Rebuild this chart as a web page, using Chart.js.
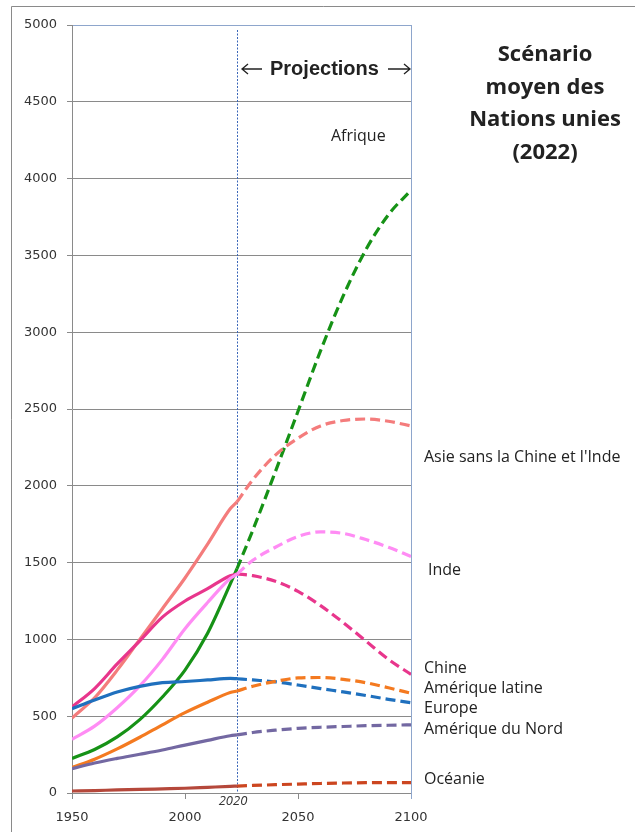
<!DOCTYPE html>
<html>
<head>
<meta charset="utf-8">
<script src="https://cdn.jsdelivr.net/npm/chart.js@4"></script>
<style>
  html, body { margin: 0; padding: 0; background: #fff; }
  canvas { display: block; }
</style>
</head>
<body>
<canvas id="chart" width="635" height="832"></canvas>
<script>
// years: history up to the start of projections, then UN medium scenario
var histYears = [1950, 1960, 1970, 1980, 1990, 2000, 2010, 2020, 2023]
var projYears = [2023, 2030, 2040, 2050, 2060, 2070, 2080, 2090, 2100]
var breakYear = 2023

// population in millions
var afriqueHist = [225, 283, 365, 478, 625, 800, 1040, 1360, 1460]
var afriqueProj = [1460, 1711, 2093, 2485, 2880, 3236, 3536, 3765, 3924]
var asieHist = [488, 620, 800, 1000, 1200, 1400, 1620, 1850, 1895]
var asieProj = [1895, 2040, 2200, 2310, 2390, 2425, 2435, 2420, 2390]
var indeHist = [350, 435, 555, 697, 870, 1070, 1240, 1396, 1425]
var indeProj = [1425, 1515, 1600, 1670, 1700, 1690, 1650, 1600, 1540]
var chineHist = [560, 680, 840, 990, 1145, 1250, 1330, 1415, 1426]
var chineProj = [1426, 1415, 1378, 1313, 1220, 1110, 990, 870, 772]
var europeHist = [549, 605, 657, 694, 718, 726, 736, 746, 744]
var europeProj = [744, 736, 724, 703, 680, 658, 635, 610, 588]
var latHist = [166, 220, 287, 363, 444, 523, 591, 654, 664]
var latProj = [664, 695, 727, 749, 752, 740, 718, 685, 650]
var nordHist = [158, 195, 225, 252, 280, 312, 343, 373, 378]
var nordProj = [378, 394, 409, 421, 428, 433, 438, 441, 444]
var oceanieHist = [13, 16, 20, 23, 27, 31, 37, 43, 45]
var oceanieProj = [45, 49, 54, 58, 62, 65, 67, 68, 68]

var yTicks = [0, 500, 1000, 1500, 2000, 2500, 3000, 3500, 4000, 4500, 5000]
var xTicks = [1950, 2000, 2050, 2100]

var GREEN = "#169216"
var SALMON = "#F47C7C"
var VIOLET = "#FF8CF4"
var PINK = "#E8368C"
var BLUE = "#1F70BE"
var ORANGE = "#F47A20"
var PURPLE = "#7368A2"
var BROWN = "#B5483B"
var BROWN_DASH = "#CC4620"

function pts(xs, ys) {
  return xs.map(function (x, i) { return {x: x, y: ys[i]} })
}

function line(data, color, dashed) {
  return {
    data: data,
    borderColor: color,
    backgroundColor: color,
    borderWidth: 3.2,
    borderDash: dashed ? [10, 5] : [],
    pointRadius: 0,
    fill: false,
    cubicInterpolationMode: 'monotone'
  }
}

var series = [
  [oceanieHist, oceanieProj, BROWN, BROWN_DASH],
  [nordHist, nordProj, PURPLE, PURPLE],
  [latHist, latProj, ORANGE, ORANGE],
  [europeHist, europeProj, BLUE, BLUE],
  [indeHist, indeProj, VIOLET, VIOLET],
  [chineHist, chineProj, PINK, PINK],
  [asieHist, asieProj, SALMON, SALMON],
  [afriqueHist, afriqueProj, GREEN, GREEN]
]

var datasets = []
series.forEach(function (s) {
  datasets.push(line(pts(histYears, s[0]), s[2], false))
  datasets.push(line(pts(projYears, s[1]), s[3], true))
})

var labelFont = "16px 'Open Sans'"
var regionLabels = [
  ["Afrique", 331, 136],
  ["Asie sans la Chine et l'Inde", 424, 457],
  ["Inde", 428, 570],
  ["Chine", 424, 668],
  ["Amérique latine", 424, 688],
  ["Europe", 424, 708],
  ["Amérique du Nord", 424, 729],
  ["Océanie", 424, 779]
]
var titleLines = ["Scénario", "moyen des", "Nations unies", "(2022)"]

function arrow(c, x1, x2, y) {
  var d = x2 > x1 ? 1 : -1
  c.beginPath()
  c.moveTo(x1, y)
  c.lineTo(x2, y)
  c.moveTo(x2 - d * 6, y - 5)
  c.lineTo(x2, y)
  c.lineTo(x2 - d * 6, y + 5)
  c.stroke()
}

var extras = {
  id: 'extras',
  beforeDatasetsDraw: function (chart) {
    var c = chart.ctx, a = chart.chartArea
    var x = Math.round(chart.scales.x.getPixelForValue(breakYear)) + 0.5
    c.save()
    c.strokeStyle = "#3A66B8"
    c.lineWidth = 1
    c.setLineDash([2, 1.5])
    c.beginPath()
    c.moveTo(x, a.top + 5)
    c.lineTo(x, a.bottom)
    c.stroke()
    c.restore()
  },
  afterDraw: function (chart) {
    var c = chart.ctx, a = chart.chartArea
    c.save()
    // outer frame
    c.strokeStyle = "#8a8a8a"
    c.lineWidth = 1
    c.beginPath()
    c.moveTo(11.5, 832)
    c.lineTo(11.5, 6.5)
    c.lineTo(635, 6.5)
    c.stroke()
    // right border of plot
    c.strokeStyle = "#8EA6CC"
    c.beginPath()
    c.moveTo(Math.round(a.right) + 0.5, a.top)
    c.lineTo(Math.round(a.right) + 0.5, a.bottom + 6)
    c.stroke()

    c.fillStyle = "#222"
    c.textBaseline = "middle"
    c.textAlign = "left"
    c.font = labelFont
    regionLabels.forEach(function (l) { c.fillText(l[0], l[1], l[2]) })

    c.font = "bold 22px 'Open Sans'"
    c.textAlign = "center"
    titleLines.forEach(function (t, i) { c.fillText(t, 545, 55 + i * 32.5) })

    c.font = "bold 20px 'Liberation Sans'"
    c.textAlign = "left"
    c.fillText("Projections", 270, 69)
    c.strokeStyle = "#222"
    c.lineWidth = 1.3
    arrow(c, 262, 242, 69)
    arrow(c, 388, 410, 69)

    c.font = "italic 13px 'Open Sans'"
    c.textAlign = "center"
    c.fillStyle = "#333"
    c.fillText("2020", 233, 801)
    c.restore()
  }
}

function plain(v) { return String(v) }

new Chart(document.getElementById("chart"), {
  type: 'line',
  data: { datasets: datasets },
  options: {
    responsive: false,
    animation: false,
    devicePixelRatio: 1,
    layout: { padding: { left: 0, right: 224, top: 25, bottom: 0 } },
    plugins: { legend: { display: false }, tooltip: { enabled: false } },
    scales: {
      x: {
        type: 'linear',
        min: 1950,
        max: 2100,
        afterBuildTicks: function (s) { s.ticks = xTicks.map(function (v) { return {value: v} }) },
        afterFit: function (s) { s.height = 39 },
        grid: { drawOnChartArea: false, tickLength: 6, tickColor: "#8a8a8a" },
        border: { color: "#8a8a8a" },
        ticks: { font: { family: "DejaVu Sans", size: 13 }, color: "#333", padding: 11, maxRotation: 0, callback: plain }
      },
      y: {
        min: 0,
        max: 5000,
        afterBuildTicks: function (s) { s.ticks = yTicks.map(function (v) { return {value: v} }) },
        afterFit: function (s) { s.width = 72 },
        grid: {
          color: function (ctx) { return ctx.tick && ctx.tick.value === 5000 ? "#8EA6CC" : "#8a8a8a" },
          tickColor: "#8a8a8a",
          tickLength: 5
        },
        border: { color: "#8a8a8a" },
        ticks: { font: { family: "DejaVu Sans", size: 13 }, color: "#333", padding: 10, callback: plain }
      }
    }
  },
  plugins: [extras]
})
</script>
</body>
</html>
